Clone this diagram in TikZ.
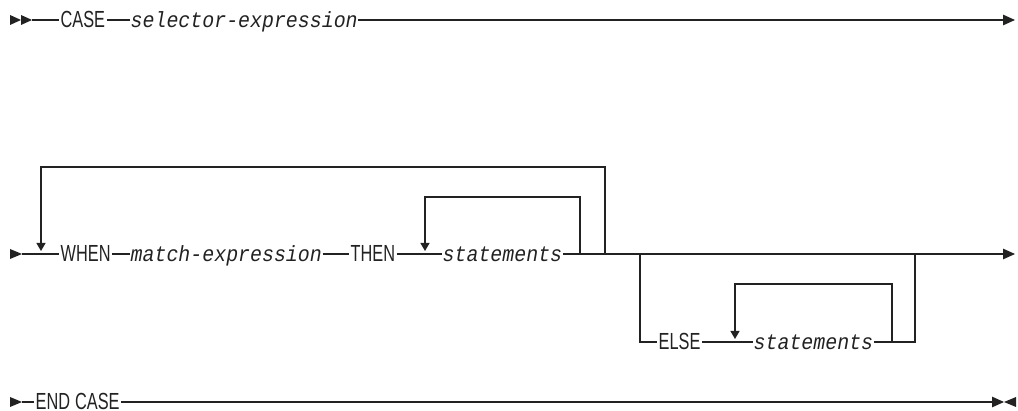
\documentclass[tikz,border=0pt]{standalone}
\usepackage{fontspec}
\setmainfont{Liberation Sans}[FakeStretch=0.7]
\newfontface\varfont{Liberation Mono Italic}[FakeStretch=0.905]
\usetikzlibrary{arrows.meta,calc}
\definecolor{ink}{HTML}{222222}
\tikzset{
  rail/.style={draw=ink,line width=1.2pt},
  endarr/.style={rail,-{Triangle[length=12pt,width=10.5pt]}},
  looparr/.style={rail,-{Triangle[length=8pt,width=9pt]}},
  kw/.style={inner xsep=1.5pt,inner ysep=0pt,text height=16pt,text depth=0pt,anchor=west,text=ink,
    font=\fontsize{23.3}{23.3}\selectfont},
  var/.style={kw,inner xsep=0.5pt,font=\fontsize{22}{22}\selectfont\varfont},
  tri/.style={fill=ink}
}
\begin{document}
\begin{tikzpicture}[x=1pt,y=-1pt]
\useasboundingbox (0,0) rectangle (1018,411);
% ---------- row 1
\fill[tri] (10,15) -- (10,25) -- (21,20) -- cycle;
\fill[tri] (21,15) -- (21,25) -- (32,20) -- cycle;
\coordinate (s1e) at (32,20);
\node[kw] (case) at (59,20) {CASE};
\node[var] (sel) at (130,20) {selector-expression};
\coordinate (e1) at (1015,20);
\draw[rail] (s1e) -- (case.west);
\draw[rail] (case.east) -- (sel.west);
\draw[endarr] (sel.east) -- (e1);
% ---------- row 2
\fill[tri] (10,249) -- (10,259) -- (22,254) -- cycle;
\coordinate (r2s) at (22,254);
\node[kw] (when) at (59,254) {WHEN};
\node[var] (match) at (130,254) {match-expression};
\node[kw] (then) at (349,254) {THEN};
\node[var] (stm1) at (442,254) {statements};
\coordinate (e2) at (1015,254);
\draw[rail] (r2s) -- (when.west);
\draw[rail] (when.east) -- (match.west);
\draw[rail] (match.east) -- (then.west);
\draw[rail] (then.east) -- (stm1.west);
\draw[endarr] (stm1.east) -- (e2);
% outer repeat loop
\coordinate (o1) at (605,254);
\coordinate (o2) at (605,167);
\coordinate (o3) at (41,167);
\coordinate (o4) at (41,251);
\draw[looparr] (o1) -- (o2) -- (o3) -- (o4);
% inner repeat loop (THEN statements)
\coordinate (i1) at (580,254);
\coordinate (i2) at (580,197);
\coordinate (i3) at (425,197);
\coordinate (i4) at (425,251);
\draw[looparr] (i1) -- (i2) -- (i3) -- (i4);
% ELSE branch
\coordinate (b1) at (640,254);
\coordinate (b2) at (640,342);
\node[kw] (else) at (657,342) {ELSE};
\node[var] (stm2) at (753,342) {statements};
\coordinate (b3) at (915,342);
\coordinate (b4) at (915,254);
\draw[rail] (b1) -- (b2) -- (else.west);
\draw[rail] (else.east) -- (stm2.west);
\draw[rail] (stm2.east) -- (b3) -- (b4);
\coordinate (k1) at (892,342);
\coordinate (k2) at (892,284);
\coordinate (k3) at (735,284);
\coordinate (k4) at (735,339);
\draw[looparr] (k1) -- (k2) -- (k3) -- (k4);
% ---------- row 3
\fill[tri] (10,397) -- (10,407) -- (22,402) -- cycle;
\coordinate (r3s) at (22,402);
\node[kw] (endc) at (34,402) {END\hspace{5pt}CASE};
\coordinate (e3) at (1004,402);
\draw[rail] (r3s) -- (endc.west);
\draw[endarr] (endc.east) -- (e3);
\fill[tri] (1016,397) -- (1016,407) -- (1004,402) -- cycle;
\end{tikzpicture}
\end{document}
